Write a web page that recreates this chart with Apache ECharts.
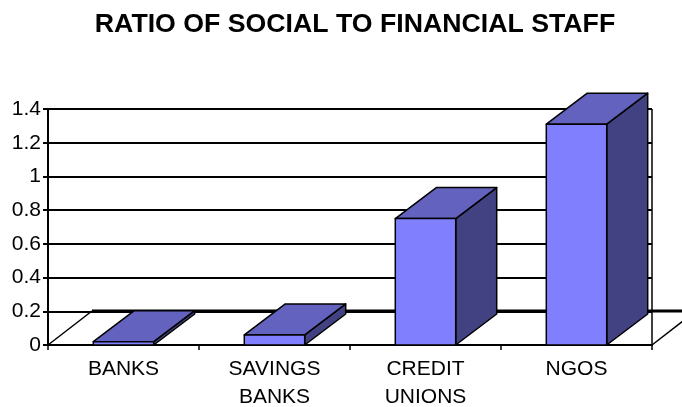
<!DOCTYPE html>
<html>
<head>
<meta charset="utf-8">
<script src="https://cdn.jsdelivr.net/npm/echarts@6/dist/echarts.min.js"></script>
<style>
  html, body { margin: 0; padding: 0; background: #fff; }
  #chart { width: 682px; height: 407px; }
</style>
</head>
<body>
<div id="chart"></div>
<script>
const titleText = 'RATIO OF SOCIAL TO FINANCIAL STAFF';
const categories = ['BANKS', 'SAVINGS\nBANKS', 'CREDIT\nUNIONS', 'NGOS'];
const ratios = [0.02, 0.06, 0.75, 1.31];
const yMin = 0;
const yMax = 1.4;
const yStep = 0.2;

const FONT = '"Liberation Sans", Arial, Helvetica, sans-serif';
const FRONT = '#8080ff';
const TOP = '#6363bf';
const SIDE = '#424282';

// 3D depth offsets (pixels) for the floor and the columns
const FLOOR_DX = 44, FLOOR_DY = 34;
const BAR_DX = 41, BAR_DY = 31;

const chart = echarts.init(document.getElementById('chart'));

// Floor outline and right edge of the plot
function renderFloor(params, api) {
  const cs = params.coordSys;
  const x0 = cs.x, x1 = cs.x + cs.width;
  const yb = cs.y + cs.height, yt = cs.y;
  const line = (pts, w) => ({
    type: 'polyline',
    shape: { points: pts },
    style: { stroke: '#000', lineWidth: w, fill: null }
  });
  return {
    type: 'group',
    children: [
      line([[x0, yb], [x0 + FLOOR_DX, yb - FLOOR_DY]], 1.5),
      line([[x0 + FLOOR_DX, yb - FLOOR_DY], [x1 + FLOOR_DX, yb - FLOOR_DY]], 3),
      line([[x1, yb], [x1 + FLOOR_DX, yb - FLOOR_DY]], 1.5),
      line([[x1, yt], [x1, yb]], 1.5)
    ]
  };
}

// Column drawn as front face, top face and right side face
function renderColumn(params, api) {
  const cat = api.value(0);
  const top = api.coord([cat, api.value(1)]);
  const base = api.coord([cat, 0]);
  const w = api.size([1, 0])[0] * 0.4;
  const l = top[0] - w / 2, r = top[0] + w / 2;
  const t = top[1], b = base[1];
  const stroke = { stroke: '#000', lineWidth: 1.5, lineJoin: 'round' };
  return {
    type: 'group',
    children: [
      {
        type: 'polygon',
        shape: { points: [[r, t], [r + BAR_DX, t - BAR_DY], [r + BAR_DX, b - BAR_DY], [r, b]] },
        style: Object.assign({ fill: SIDE }, stroke)
      },
      {
        type: 'polygon',
        shape: { points: [[l, t], [l + BAR_DX, t - BAR_DY], [r + BAR_DX, t - BAR_DY], [r, t]] },
        style: Object.assign({ fill: TOP }, stroke)
      },
      {
        type: 'rect',
        shape: { x: l, y: t, width: w, height: b - t },
        style: Object.assign({ fill: FRONT }, stroke)
      }
    ]
  };
}

chart.setOption({
  animation: false,
  backgroundColor: '#fff',
  title: {
    text: titleText,
    left: 350,
    top: 6,
    textAlign: 'center',
    textStyle: { fontFamily: FONT, fontSize: 26.7, fontWeight: 'bold', color: '#000' }
  },
  grid: { left: 48, right: 30, top: 109, bottom: 62, containLabel: false, outerBoundsMode: 'none' },
  xAxis: {
    type: 'category',
    data: categories,
    boundaryGap: true,
    axisLine: { show: true, lineStyle: { color: '#000', width: 2 } },
    axisTick: { show: true, length: 5, lineStyle: { color: '#000', width: 1.5 } },
    axisLabel: {
      margin: 10,
      color: '#000',
      fontFamily: FONT,
      fontSize: 21,
      lineHeight: 28,
      interval: 0
    },
    splitLine: { show: false }
  },
  yAxis: {
    type: 'value',
    min: yMin,
    max: yMax,
    interval: yStep,
    axisLine: { show: true, lineStyle: { color: '#000', width: 2 } },
    axisTick: { show: true, length: 5, lineStyle: { color: '#000', width: 2 } },
    axisLabel: {
      margin: 7,
      color: '#000',
      fontFamily: FONT,
      fontSize: 21,
      padding: [4, 0, 0, 0],
      formatter: v => String(+v.toFixed(1))
    },
    splitLine: { show: true, lineStyle: { color: '#000', width: 2 } }
  },
  series: [
    {
      type: 'custom',
      z: 1,
      clip: false,
      silent: true,
      renderItem: renderFloor,
      data: [[0, 0]]
    },
    {
      type: 'custom',
      z: 2,
      clip: false,
      renderItem: renderColumn,
      encode: { x: 0, y: 1 },
      data: ratios.map((v, i) => [i, v])
    }
  ]
});
</script>
</body>
</html>
